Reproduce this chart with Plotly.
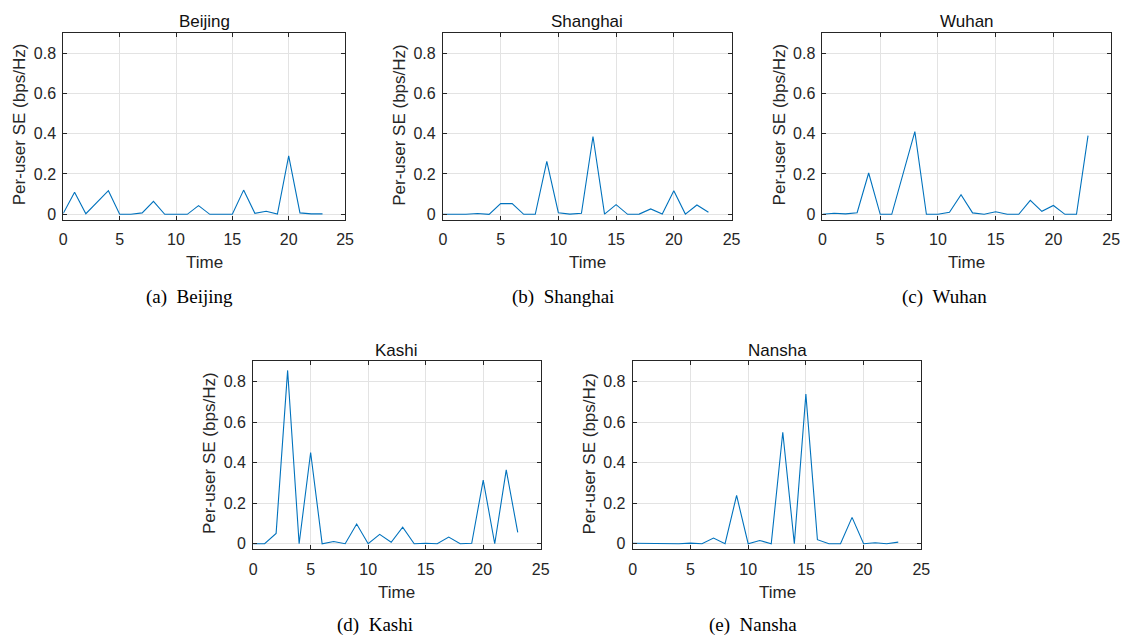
import plotly.graph_objects as go

W, H = 1131, 638

time = list(range(24))
cities = ["Beijing", "Shanghai", "Wuhan", "Kashi", "Nansha"]
captions = ["(a)  Beijing", "(b)  Shanghai", "(c)  Wuhan", "(d)  Kashi", "(e)  Nansha"]

beijing = [0.005, 0.109, 0.003, 0.060, 0.117, 0.0, 0.0, 0.007, 0.064, 0.0, 0.0, 0.0,
           0.043, 0.0, 0.0, 0.0, 0.120, 0.005, 0.015, 0.001, 0.290, 0.007, 0.002, 0.002]
shanghai = [0.0, 0.0, 0.0, 0.004, 0.0, 0.053, 0.053, 0.0, 0.0, 0.263, 0.008, 0.001,
            0.005, 0.386, 0.001, 0.048, 0.0, 0.001, 0.027, 0.001, 0.117, 0.001, 0.046, 0.010]
wuhan = [0.0, 0.005, 0.002, 0.008, 0.205, 0.0, 0.0, 0.205, 0.410, 0.0, 0.0, 0.010,
         0.097, 0.007, 0.0, 0.013, 0.0, 0.0, 0.069, 0.015, 0.044, 0.0, 0.0, 0.390]
kashi = [0.0, 0.0, 0.051, 0.855, 0.0, 0.450, 0.0, 0.011, 0.0, 0.097, 0.0, 0.046,
         0.007, 0.082, 0.0, 0.002, 0.0, 0.033, 0.0, 0.002, 0.314, 0.0, 0.364, 0.056]
nansha = [0.002, 0.001, 0.0, 0.0, 0.0, 0.003, 0.0, 0.028, 0.0, 0.238, 0.0, 0.016,
          0.0, 0.550, 0.0, 0.738, 0.020, 0.0, 0.0, 0.130, 0.0, 0.005, 0.0, 0.008]
series = [beijing, shanghai, wuhan, kashi, nansha]

x_ticks = [0, 5, 10, 15, 20, 25]
y_ticks = [0, 0.2, 0.4, 0.6, 0.8]
y_tick_text = ["0", "0.2", "0.4", "0.6", "0.8"]

# plot boxes in pixels: (left, right, top, bottom)
boxes = [(60, 345, 33, 221), (444, 736, 33, 221), (828, 1120, 33, 221),
         (252, 543, 363, 552), (636, 928, 363, 552)]
caption_pos = [(188, 298), (566, 298), (951, 298), (375, 628), (758, 628)]

def px(x):
    return x / W

def py(y):
    return (H - y) / H

fig = go.Figure()
TXT = "#262626"
SANS = "Liberation Sans, Arial, sans-serif"
annotations = []
for i, (name, vals, box) in enumerate(zip(cities, series, boxes)):
    n = i + 1
    xa = "x" if n == 1 else f"x{n}"
    ya = "y" if n == 1 else f"y{n}"
    fig.add_trace(go.Scatter(x=time, y=vals, mode="lines",
                             line=dict(color="#0072BD", width=1.1),
                             xaxis=xa, yaxis=ya, showlegend=False))
    l, r, t, b = box
    common = dict(showline=True, mirror="ticks", linecolor=TXT, linewidth=1,
                  ticks="inside", ticklen=4, tickcolor=TXT,
                  showgrid=True, gridcolor="#e3e3e3", gridwidth=1, zeroline=False,
                  tickfont=dict(family=SANS, size=16, color=TXT))
    fig.update_layout({
        ("xaxis" if n == 1 else f"xaxis{n}"): dict(
            domain=[px(l), px(r)], range=[0, 25], tickvals=x_ticks,
            anchor=ya, ticklabelstandoff=5, **common),
        ("yaxis" if n == 1 else f"yaxis{n}"): dict(
            domain=[py(b), py(t)], range=[-0.028, 0.9], tickvals=y_ticks,
            ticktext=y_tick_text, anchor=xa, ticklabelstandoff=3, **common),
    })
    cx = (l + r) / 2
    annotations.append(dict(text=name, x=px(cx), y=py(t - 11), xref="paper", yref="paper",
                            showarrow=False, xanchor="center", yanchor="middle",
                            font=dict(family=SANS, size=17, color="#111111")))
    annotations.append(dict(text="Time", x=px(cx), y=py(b + 43), xref="paper", yref="paper",
                            showarrow=False, xanchor="center", yanchor="middle",
                            font=dict(family=SANS, size=17, color=TXT)))
    annotations.append(dict(text="Per-user SE (bps/Hz)", x=px(l - 44), y=py((t + b) / 2 - 2),
                            xref="paper", yref="paper", textangle=-90,
                            showarrow=False, xanchor="center", yanchor="middle",
                            font=dict(family=SANS, size=17, color=TXT)))
    cxp, cyp = caption_pos[i]
    annotations.append(dict(text=captions[i].replace("  ", "&nbsp;&nbsp;"), x=px(cxp), y=py(cyp),
                            xref="paper", yref="paper", showarrow=False,
                            xanchor="center", yanchor="middle",
                            font=dict(family="Liberation Serif, Times New Roman, serif",
                                      size=19, color="#000000")))

fig.update_layout(width=W, height=H, margin=dict(l=0, r=0, t=0, b=0),
                  paper_bgcolor="white", plot_bgcolor="white",
                  annotations=annotations)

fig.write_html("out.html")
